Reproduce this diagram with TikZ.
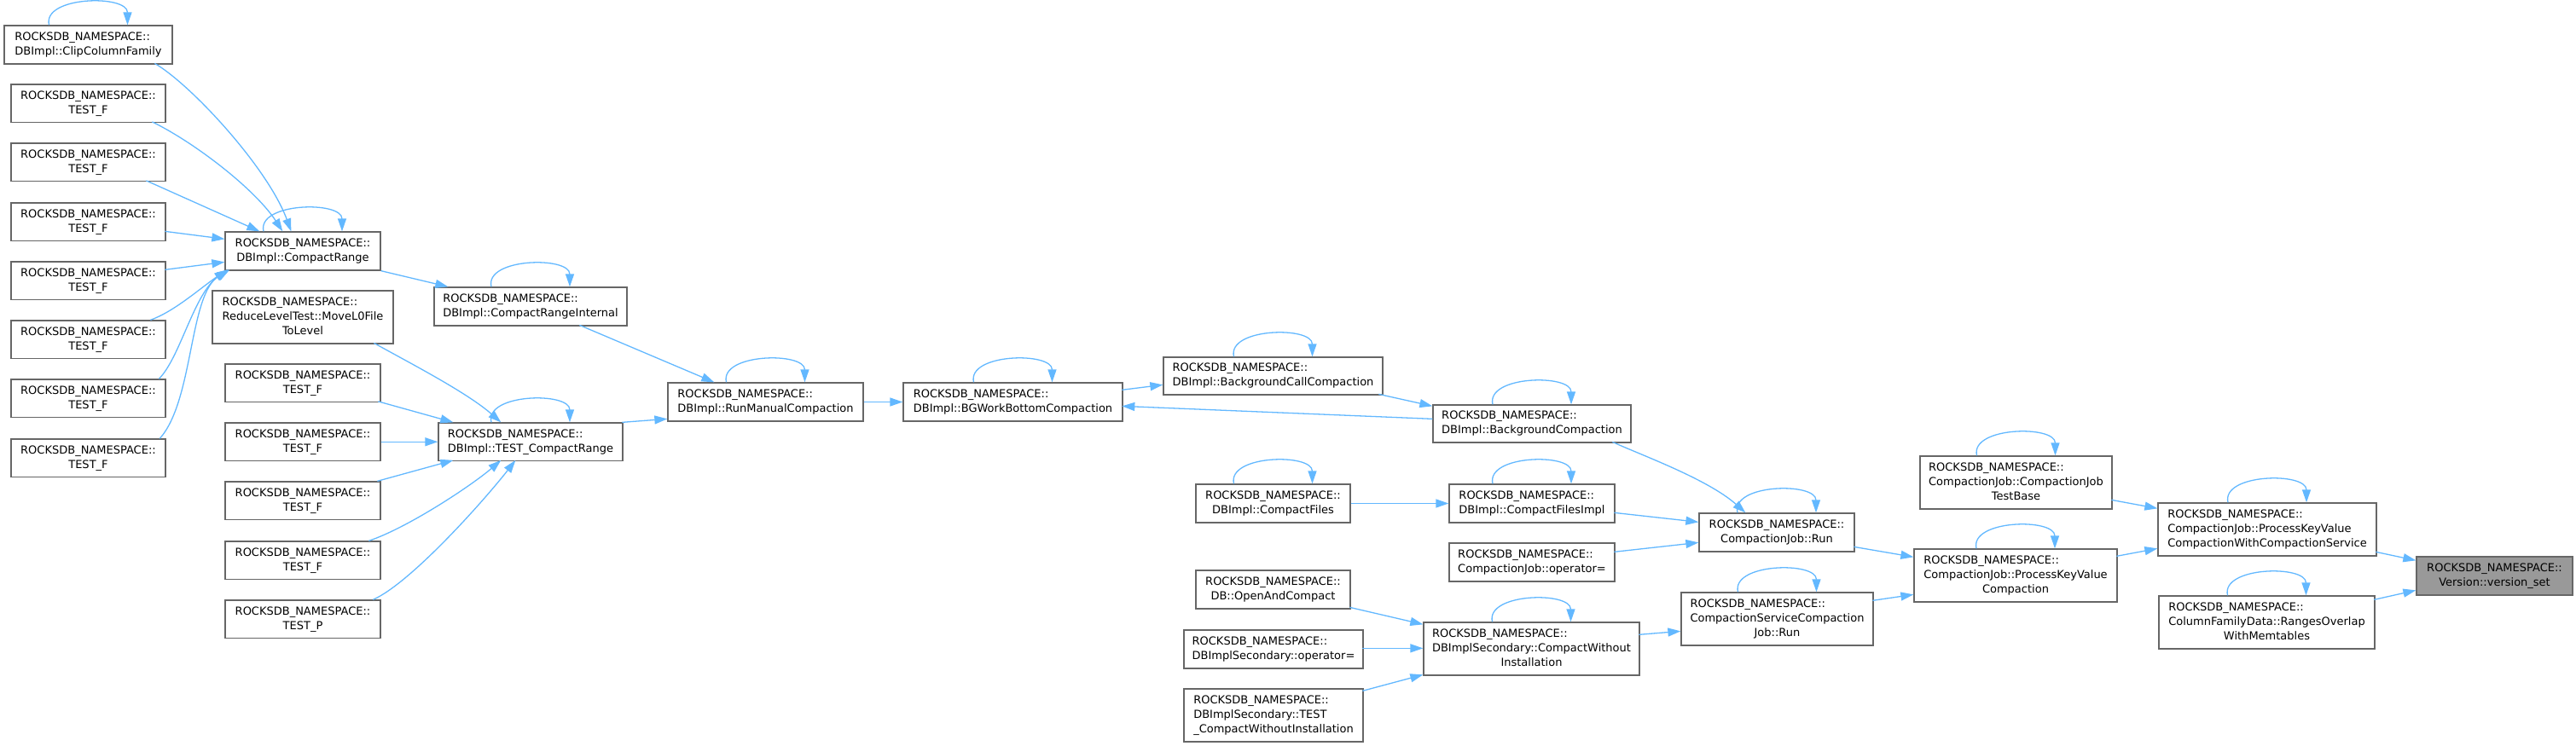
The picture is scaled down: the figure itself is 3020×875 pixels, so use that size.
\documentclass[tikz,border=0pt]{standalone}
\usepackage{fontspec}
\setmainfont{DejaVu Sans}
\usetikzlibrary{arrows.meta,calc}
\definecolor{edgec}{HTML}{63B8FF}
\definecolor{bordc}{HTML}{666666}
\definecolor{selc}{HTML}{999999}
\newcommand{\twol}[2]{\begin{tabular}{@{}l@{}}#1\\\multicolumn{1}{@{}c@{}}{#2}\end{tabular}}
\newcommand{\threel}[3]{\begin{tabular}{@{}l@{}}#1\\#2\\\multicolumn{1}{@{}c@{}}{#3}\end{tabular}}
\newcommand{\RN}{ROCKSDB\_NAMESPACE::}
\newcommand{\bx}[7][]{\node[box,#1, minimum width={#5-#3}, minimum height={#6-#4}] (#2) at ({(#3+#5)/2},{(#4+#6)/2}) {#7};}
\newcommand{\selfloop}[1]{\draw[edge] ([xshift=-46pt]#1.north) .. controls +(-8,-34) and +(0,-36) .. ([xshift=46pt]#1.north);}
\begin{document}
\begin{tikzpicture}[x=1pt,y=-1pt,
  box/.style={draw=bordc, fill=white, line width=1.3pt, inner sep=0pt, font=\fontsize{13pt}{17pt}\selectfont},
  edge/.style={draw=edgec, line width=1.3pt, -{Triangle[length=15pt,width=10pt]}}]
\useasboundingbox (0,0) rectangle (3020,875);
% nodes
\bx{clip}{5}{30}{202}{75}{\twol{\RN}{DBImpl::ClipColumnFamily}}
\bx{tfa}{13}{99}{194}{143.5}{\twol{\RN}{TEST\_F}}
\bx{tfb}{13}{168}{194}{212.5}{\twol{\RN}{TEST\_F}}
\bx{tfc}{13}{238}{194}{282.5}{\twol{\RN}{TEST\_F}}
\bx{tfd}{13}{307}{194}{351.5}{\twol{\RN}{TEST\_F}}
\bx{tfe}{13}{376}{194}{420.5}{\twol{\RN}{TEST\_F}}
\bx{tff}{13}{445}{194}{489.5}{\twol{\RN}{TEST\_F}}
\bx{tfg}{13}{515}{194}{559.5}{\twol{\RN}{TEST\_F}}
\bx{cr}{264}{272}{446}{317}{\twol{\RN}{DBImpl::CompactRange}}
\bx{rlt}{249}{341}{461}{403}{\threel{\RN}{ReduceLevelTest::MoveL0File}{ToLevel}}
\bx{tca}{264}{427}{446}{471.5}{\twol{\RN}{TEST\_F}}
\bx{tcb}{264}{496}{446}{540.5}{\twol{\RN}{TEST\_F}}
\bx{tcc}{264}{565}{446}{609.5}{\twol{\RN}{TEST\_F}}
\bx{tcd}{264}{635}{446}{679.5}{\twol{\RN}{TEST\_F}}
\bx{tp}{264}{704}{446}{748.5}{\twol{\RN}{TEST\_P}}
\bx{cri}{509}{337}{735}{382}{\twol{\RN}{DBImpl::CompactRangeInternal}}
\bx{tcr}{514}{496}{730}{540.5}{\twol{\RN}{DBImpl::TEST\_CompactRange}}
\bx{rmc}{783}{449}{1012}{494}{\twol{\RN}{DBImpl::RunManualCompaction}}
\bx{bgw}{1059}{449}{1316}{494}{\twol{\RN}{DBImpl::BGWorkBottomCompaction}}
\bx{bcc}{1364}{419}{1621}{463}{\twol{\RN}{DBImpl::BackgroundCallCompaction}}
\bx{bc}{1680}{475}{1912}{519}{\twol{\RN}{DBImpl::BackgroundCompaction}}
\bx{cf}{1402}{568}{1583}{613}{\twol{\RN}{DBImpl::CompactFiles}}
\bx{cfi}{1699}{568}{1893}{613}{\twol{\RN}{DBImpl::CompactFilesImpl}}
\bx{cjr}{1992}{602}{2174}{647}{\twol{\RN}{CompactionJob::Run}}
\bx{cjo}{1699}{637}{1893}{682}{\twol{\RN}{CompactionJob::operator=}}
\bx{oac}{1402}{669}{1583}{714}{\twol{\RN}{DB::OpenAndCompact}}
\bx{dso}{1388}{739}{1598}{784}{\twol{\RN}{DBImplSecondary::operator=}}
\bx{tcwi}{1388}{808}{1598}{870}{\threel{\RN}{DBImplSecondary::TEST}{\_CompactWithoutInstallation}}
\bx{cwi}{1669}{730}{1922}{792}{\threel{\RN}{DBImplSecondary::CompactWithout}{Installation}}
\bx{cscj}{1971}{695}{2196}{757}{\threel{\RN}{CompactionServiceCompaction}{Job::Run}}
\bx{pkvc}{2244}{644}{2482}{706}{\threel{\RN}{CompactionJob::ProcessKeyValue}{Compaction}}
\bx{cjtb}{2251}{535}{2476}{597}{\threel{\RN}{CompactionJob::CompactionJob}{TestBase}}
\bx{pkvcs}{2530}{590}{2786}{652}{\threel{\RN}{CompactionJob::ProcessKeyValue}{CompactionWithCompactionService}}
\bx{rowm}{2531}{699}{2784}{761}{\threel{\RN}{ColumnFamilyData::RangesOverlap}{WithMemtables}}
\bx[fill=selc]{vs}{2833}{653}{3016}{698}{\twol{\RN}{Version::version\_set}}
% self loops
\foreach \n in {clip,cr,cri,tcr,rmc,bgw,bcc,bc,cf,cfi,cjr,cwi,cscj,pkvc,cjtb,pkvcs,rowm}{\selfloop{\n}}
% edges into CompactRange
\draw[edge] ($(clip.north west)+(177,45)$) .. controls +(43,25) and +(-27,-74) .. ($(cr.north west)+(78,0)$);
\draw[edge] ($(tfa.north west)+(166,44.5)$) .. controls +(51,25) and +(-32,-49) .. ($(cr.north west)+(68,0)$);
\draw[edge] ($(tfb.north west)+(159,44.5)$) -- ($(cr.north west)+(41,0)$);
\draw[edge] ($(tfc.north west)+(181,34)$) -- ($(cr.north west)+(0,9)$);
\draw[edge] ($(tfd.north west)+(181,10)$) -- ($(cr.north west)+(0,36)$);
\draw[edge] ($(tfe.north west)+(164,0)$) .. controls +(28,-10) and +(-32,22) .. ($(cr.north west)+(3,45)$);
\draw[edge] ($(tff.north west)+(174,0)$) .. controls +(25,-25) and +(-40,28) .. ($(cr.north west)+(4,45)$);
\draw[edge] ($(tfg.north west)+(175,0)$) .. controls +(40,-45) and +(-48,28) .. ($(cr.north west)+(6,45)$);
% CompactRange chain
\draw[edge] (cr.south east) -- ($(cri.north west)+(17,0)$);
\draw[edge] ($(cri.north west)+(171,45)$) -- ($(rmc.north west)+(55,0)$);
% into TEST_CompactRange
\draw[edge] ($(rlt.north west)+(190,62)$) .. controls +(45,25) and +(-40,-35) .. ($(tcr.north west)+(74,0)$);
\draw[edge] ($(tca.north west)+(180,44.5)$) -- ($(tcr.north west)+(18,0)$);
\draw[edge] (tcb.east) -- (tcr.west);
\draw[edge] ($(tcc.north west)+(179,0)$) -- ($(tcr.north west)+(18,44.5)$);
\draw[edge] ($(tcd.north west)+(169,0)$) .. controls +(45,-15) and +(-35,30) .. ($(tcr.north west)+(74,44.5)$);
\draw[edge] ($(tp.north west)+(174,0)$) .. controls +(45,-20) and +(-35,45) .. ($(tcr.north west)+(91,44.5)$);
\draw[edge] ($(tcr.north west)+(216,0)$) -- ($(rmc.north west)+(0,43)$);
% middle
\draw[edge] (rmc.east) -- (bgw.west);
\draw[edge] ($(bgw.north west)+(257,9)$) -- ($(bcc.north west)+(0,33)$);
\draw[edge] ($(bcc.north west)+(253,44)$) -- ($(bc.north west)+(0,2)$);
\draw[edge] ($(bc.north west)+(0,17)$) -- ($(bgw.north west)+(257,28)$);
\draw[edge] ($(bc.north west)+(211,44)$) .. controls +(30,14) and +(-45,-40) .. ($(cjr.north west)+(55,0)$);
\draw[edge] (cf.east) -- (cfi.west);
\draw[edge] ($(cfi.north west)+(194,34)$) -- ($(cjr.north west)+(0,11)$);
\draw[edge] ($(cjo.north west)+(194,11)$) -- ($(cjr.north west)+(0,35)$);
\draw[edge] ($(oac.north west)+(181,44)$) -- ($(cwi.north west)+(0,3)$);
\draw[edge] ($(dso.north west)+(210,22)$) -- ($(cwi.north west)+(0,31)$);
\draw[edge] ($(tcwi.north west)+(210,3)$) -- ($(cwi.north west)+(0,62)$);
\draw[edge] ($(cwi.north west)+(253,15)$) -- ($(cscj.north west)+(0,46)$);
\draw[edge] ($(cscj.north west)+(225,10)$) -- ($(pkvc.north west)+(0,54)$);
\draw[edge] ($(cjr.north west)+(182,40)$) -- ($(pkvc.north west)+(0,10)$);
\draw[edge] ($(cjtb.north west)+(225,52)$) -- ($(pkvcs.north west)+(0,7)$);
\draw[edge] ($(pkvc.north west)+(238,9)$) -- ($(pkvcs.north west)+(0,54)$);
\draw[edge] ($(pkvcs.north west)+(256,58)$) -- ($(vs.north west)+(0,5)$);
\draw[edge] ($(rowm.north west)+(253,5)$) -- ($(vs.north west)+(0,40)$);
\end{tikzpicture}
\end{document}
